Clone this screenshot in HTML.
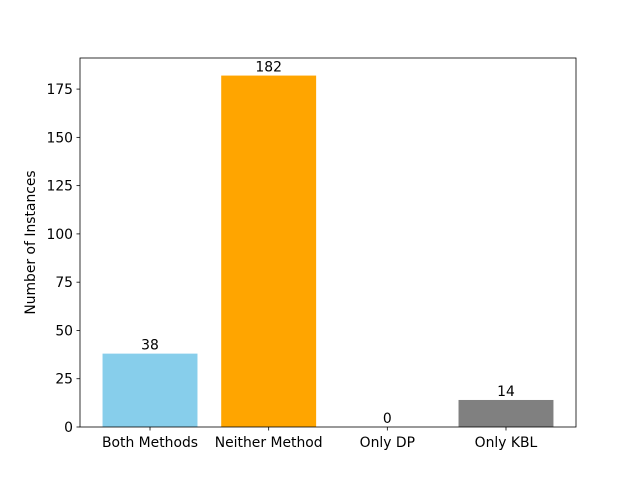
<!DOCTYPE html>
<html><head><meta charset="utf-8"><style>
body{margin:0;background:#fff}
text{font-family:"DejaVu Sans","Liberation Sans",sans-serif;font-size:13.9px;fill:#000}
</style></head><body>
<svg id="chart" width="640" height="480" viewBox="0 0 640 480">
<rect width="640" height="480" fill="#fff"/>
<g id="bars"></g>
<g id="axes"></g>
</svg>
<script>
const categories=["Both Methods","Neither Method","Only DP","Only KBL"];
const values=[38,182,0,14];
const colors=["#87ceeb","#ffa500","#ff0000","#808080"];
const yTicks=[0,25,50,75,100,125,150,175];
const yLabel="Number of Instances";

const L=80,R=576,T=58,B=427;
const ymax=Math.max(...values)*1.05;
const xmin=-0.59,xmax=categories.length-1+0.59;
const sx=v=>L+(v-xmin)/(xmax-xmin)*(R-L);
const sy=v=>B-v/ymax*(B-T);
const NS="http://www.w3.org/2000/svg";
function mk(tag,attrs,parent,txt){const e=document.createElementNS(NS,tag);for(const k in attrs)e.setAttribute(k,attrs[k]);if(txt!==undefined)e.textContent=txt;parent.appendChild(e);return e;}
const bars=document.getElementById('bars'),axes=document.getElementById('axes');
categories.forEach((c,i)=>{
  const x0=sx(i-0.4),x1=sx(i+0.4);
  const r=mk('rect',{x:x0,y:sy(values[i]),width:x1-x0,height:B-sy(values[i]),fill:colors[i]},bars);
  
  
  const t=mk('text',{x:sx(i),y:sy(values[i])-4,'text-anchor':'middle'},bars,String(values[i]));
  
  
  mk('line',{x1:sx(i),x2:sx(i),y1:B,y2:B+3.5,stroke:'#000','stroke-width':0.8},axes);
  const xl=mk('text',{x:sx(i),y:B+20,'text-anchor':'middle'},axes,c);
  
  
});
yTicks.forEach(v=>{
  mk('line',{x1:L-3.5,x2:L,y1:sy(v),y2:sy(v),stroke:'#000','stroke-width':0.8},axes);
  const t=mk('text',{x:L-7,y:sy(v)+5,'text-anchor':'end'},axes,String(v));
  
  
});
const fr=mk('rect',{x:L,y:T,width:R-L,height:B-T,fill:'none',stroke:'#000','stroke-width':0.8},axes);


const yt=mk('text',{x:0,y:0,transform:`translate(35,${(T+B)/2}) rotate(-90)`,'text-anchor':'middle'},axes,yLabel);


</script>
</body></html>
